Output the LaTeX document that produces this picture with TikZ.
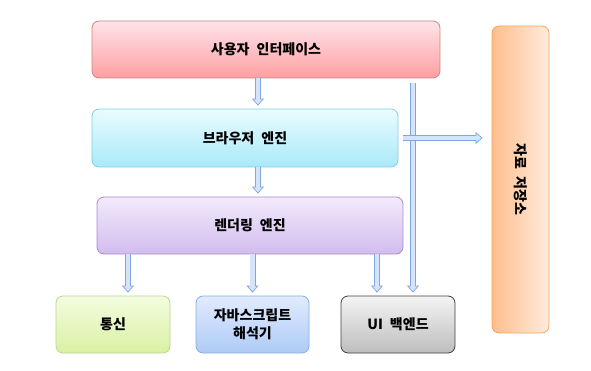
\documentclass[tikz,border=0pt]{standalone}
\usepackage{fontspec}
\setmainfont[WordSpace=2.2]{Noto Sans CJK KR}
\usetikzlibrary{arrows.meta}
\definecolor{arrline}{HTML}{7FA6DE}
\definecolor{arrfill}{HTML}{D5E4FA}
\definecolor{uitop}{HTML}{FFE4E8}\definecolor{uibot}{HTML}{FF9FA2}\definecolor{uiline}{HTML}{C98585}
\definecolor{betop}{HTML}{EAFCFF}\definecolor{bebot}{HTML}{A9E9F9}\definecolor{beline}{HTML}{86CCE4}
\definecolor{retop}{HTML}{F3EAFB}\definecolor{rebot}{HTML}{D2BCEE}\definecolor{reline}{HTML}{A98BCC}
\definecolor{nettop}{HTML}{F4FCE0}\definecolor{netbot}{HTML}{D9F1A3}\definecolor{netline}{HTML}{B9D78E}
\definecolor{jstop}{HTML}{E1EBFD}\definecolor{jsbot}{HTML}{AECBF6}\definecolor{jsline}{HTML}{86AEE4}
\definecolor{uibtop}{HTML}{F4F4F4}\definecolor{uibbot}{HTML}{BDBDBD}\definecolor{uibline}{HTML}{404040}
\definecolor{dsleft}{HTML}{FFBE8C}\definecolor{dsright}{HTML}{FFEBDD}\definecolor{dsline}{HTML}{F2A768}
\begin{document}
\begin{tikzpicture}[x=1pt, y=-1pt, font=\fontsize{14}{18}\selectfont\bfseries, >=Latex,
box/.style={draw, rounded corners=7pt, align=center, line width=0.8pt, minimum width=114pt, minimum height=57pt},
blockarr/.style={draw=arrline, line width=6pt, shorten >=#1, -{Triangle[length=7pt, width=12pt, fill=arrfill, line width=0.7pt]},
  postaction={draw=arrfill, line width=4.4pt, -, shorten >=#1+5pt}},
blockarr/.default=3pt]
\useasboundingbox (0,0) rectangle (591,371);
\node[box, draw=uiline, top color=uitop, bottom color=uibot, minimum width=348pt] (ui) at (266,49.5) {사용자 인터페이스};
\node[box, draw=beline, top color=betop, bottom color=bebot, minimum width=306pt, minimum height=58pt] (be) at (245,138) {브라우저 엔진};
\node[box, draw=reline, top color=retop, bottom color=rebot, minimum width=306pt] (re) at (250,225.5) {렌더링 엔진};
\node[box, draw=netline, top color=nettop, bottom color=netbot] (net) at (113,324.5) {통신};
\node[box, draw=jsline, top color=jstop, bottom color=jsbot, minimum width=113pt] (js) at (252.5,324.5) {자바스크립트\\해석기};
\node[box, draw=uibline, top color=uibtop, bottom color=uibbot] (uib) at (398,324.5) {UI 백엔드};
\node[box, draw=dsline, left color=dsleft, right color=dsright, minimum width=307pt, rotate=-90] (ds) at (520.5,179.5) {자료 저장소};
% arrow positions
\coordinate (xm) at (258,0);
\coordinate (xa) at (128,0);
\coordinate (xb) at (377,0);
\coordinate (xc) at (413,0);
\draw[blockarr] (ui.south -| xm) -- (be.north -| xm);
\draw[blockarr] (be.south -| xm) -- (re.north -| xm);
\draw[blockarr] (re.south -| xa) -- (net.north -| xa);
\draw[blockarr] (re.south -| js) -- (js.north);
\draw[blockarr] (re.south -| xb) -- (uib.north -| xb);
\draw[blockarr, shorten <=5pt] (ui.south -| xc) -- (uib.north -| xc);
\draw[blockarr=9pt, shorten <=5pt] (be.east) -- (ds.south |- be.east);
\end{tikzpicture}
\end{document}
